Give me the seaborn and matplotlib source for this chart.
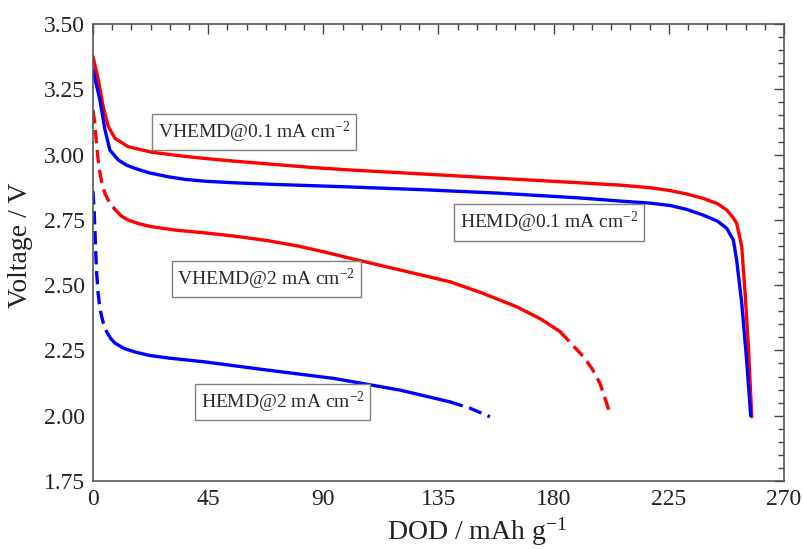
import numpy as np
import pandas as pd
import matplotlib
matplotlib.use("Agg")
import matplotlib.pyplot as plt
import seaborn as sns
from matplotlib.ticker import MultipleLocator, FormatStrFormatter

sns.set_style("white")
plt.rcParams['font.family'] = ['Liberation Serif', 'DejaVu Serif']
plt.rcParams['mathtext.fontset'] = 'custom'
plt.rcParams['mathtext.rm'] = 'Liberation Serif'
plt.rcParams['mathtext.it'] = 'Liberation Serif:italic'

# ---- data ----
vh01_x = [0, 2.1, 4.0, 6.0, 8.6, 13.8, 22.9, 36, 43.8, 55, 70, 85, 100.4, 130, 159, 190, 206,
          217.7, 225.5, 232, 238.5, 244, 247.6, 250, 251.5, 253.5, 254.8, 256.1, 257.4]
vh01_v = [3.375, 3.286, 3.183, 3.107, 3.062, 3.03, 3.009, 2.993, 2.985, 2.975, 2.963, 2.951,
          2.941, 2.925, 2.909, 2.892, 2.883, 2.873, 2.862, 2.849, 2.832, 2.812, 2.788, 2.76,
          2.737, 2.647, 2.47, 2.264, 1.996]

h01_x = [0, 2.7, 4.7, 6.6, 9.9, 13, 16.4, 22, 29.4, 36, 43.8, 55, 70, 100.4, 130, 159, 190,
         206, 217.7, 225.5, 232, 238.5, 244, 247.6, 250.2, 251.5, 253.5, 255.4, 257]
h01_v = [3.324, 3.209, 3.094, 3.017, 2.979, 2.960, 2.947, 2.930, 2.915, 2.905, 2.898, 2.892,
         2.886, 2.876, 2.865, 2.852, 2.834, 2.822, 2.814, 2.805, 2.79, 2.768, 2.745, 2.718,
         2.673, 2.596, 2.43, 2.213, 2.0]

vh2_x = [0, 0.7, 1.4, 2.0, 2.7, 3.5, 4.7, 6.5, 8.6, 11, 13.8, 18, 22.9, 32, 43.8, 55, 67.9,
         80, 90, 100.4, 120, 139.5, 152, 165.6, 175, 182.5, 187, 191.6, 195, 198.1, 202]
vh2_v = [3.17, 3.12, 3.04, 2.98, 2.93, 2.89, 2.85, 2.815, 2.79, 2.765, 2.749, 2.735, 2.724,
         2.711, 2.70, 2.688, 2.671, 2.65, 2.628, 2.603, 2.558, 2.513, 2.47, 2.417, 2.37,
         2.322, 2.275, 2.226, 2.18, 2.124, 2.009]

h2_x = [0, 0.4, 0.8, 1.1, 1.4, 2.0, 2.7, 4.0, 5.4, 7.0, 8.6, 12, 16.4, 22, 29.4, 43.8, 67.9,
        94, 120, 139.5, 147, 155.1]
h2_v = [2.86, 2.79, 2.70, 2.62, 2.55, 2.47, 2.41, 2.355, 2.32, 2.295, 2.278, 2.258, 2.244,
        2.231, 2.221, 2.206, 2.175, 2.143, 2.098, 2.053, 2.03, 1.996]

# x-ranges drawn solid for the 2 mA curves (outside them the trace is dashed)
vh2_solid = (8.6, 182.5)
h2_solid = (7.0, 139.5)

labels = ["VHEMD@0.1 mA cm$^{-2}$", "HEMD@0.1 mA cm$^{-2}$",
          "VHEMD@2 mA cm$^{-2}$", "HEMD@2 mA cm$^{-2}$"]
label_pos = [(63.0, 3.086), (178.2, 2.740), (67.7, 2.523), (74.2, 2.052)]

RED = "#ff0000"
BLUE = "#0000ff"
LW = 2.4
INK = "#222222"

fig = plt.figure(figsize=(8.04, 5.49), dpi=100)
ax = fig.add_axes([93/804, 68/549, (784-93)/804, (481-24)/549])

def draw(x, v, color, style="-"):
    df = pd.DataFrame({"x": x, "v": v})
    sns.lineplot(data=df, x="x", y="v", ax=ax, color=color, lw=LW,
                 sort=False, estimator=None, linestyle=style)

def split(x, v, lo, hi):
    x = np.asarray(x, float); v = np.asarray(v, float)
    a = x <= lo
    b = (x >= lo) & (x <= hi)
    c = x >= hi
    return (x[a], v[a]), (x[b], v[b]), (x[c], v[c])

draw(vh01_x, vh01_v, RED)
draw(h01_x, h01_v, BLUE)

DASH = (0, (4, 2.0))
for (xs, vs, rng, col) in [(vh2_x, vh2_v, vh2_solid, RED), (h2_x, h2_v, h2_solid, BLUE)]:
    pre, mid, post = split(xs, vs, *rng)
    draw(*pre, col, style=DASH)
    draw(*mid, col)
    draw(*post, col, style=DASH)

for txt, (px, py) in zip(labels, label_pos):
    ax.text(px, py, txt, fontsize=14, ha="center", va="center", color="#2a2a2a",
            bbox=dict(boxstyle="square,pad=0.28", fc="white", ec="#808080", lw=1.0))

ax.set_xlim(0, 270)
ax.set_ylim(1.75, 3.5)
ax.xaxis.set_major_locator(MultipleLocator(45))
ax.xaxis.set_minor_locator(MultipleLocator(7.5))
ax.yaxis.set_major_locator(MultipleLocator(0.25))
ax.yaxis.set_minor_locator(MultipleLocator(0.05))
ax.yaxis.set_major_formatter(FormatStrFormatter("%.2f"))
ax.tick_params(which="both", direction="in", top=True, right=True, colors="#444444",
               labelcolor=INK, width=1.0)
ax.tick_params(which="major", length=7, labelsize=17, pad=6)
ax.tick_params(which="minor", length=4)
for s in ax.spines.values():
    s.set_color("#555555")
    s.set_linewidth(1.2)

ax.set_xlabel("DOD / mAh g$^{-1}$", fontsize=20, color=INK)
ax.set_ylabel("Voltage / V", fontsize=20, color=INK)
ax.xaxis.set_label_coords(0.556, -0.075)
ax.yaxis.set_label_coords(-0.087, 0.515)

fig.savefig("out.png", dpi=100, facecolor="white")
